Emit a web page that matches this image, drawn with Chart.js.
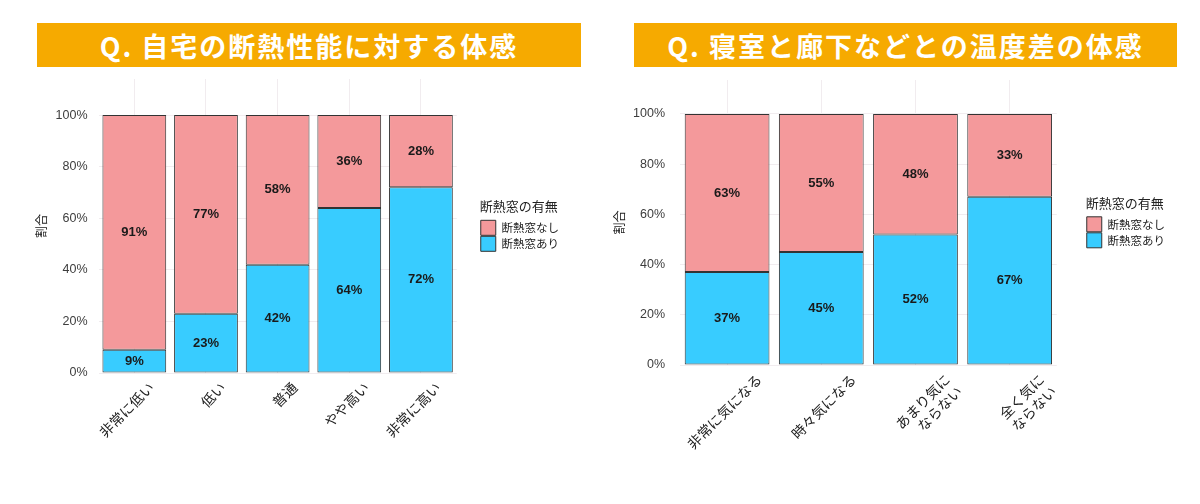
<!DOCTYPE html>
<html>
<head>
<meta charset="utf-8">
<script src="https://cdn.jsdelivr.net/npm/chart.js@4.4.1/dist/chart.umd.min.js"></script>
<style>
  html, body { margin: 0; padding: 0; background: #ffffff; }
  body { width: 1200px; height: 504px; position: relative; overflow: hidden; }
  .banner {
    position: absolute; top: 23px; height: 44px;
    background: #F6AA00;
    color: #ffffff;
    font-family: "Noto Sans CJK JP", "Noto Sans", sans-serif;
    font-weight: 700; font-size: 27px; letter-spacing: 2px;
    display: flex; align-items: center; justify-content: center;
    white-space: nowrap;
  }
  #b1 { left: 37px; width: 544px; }
  #b2 { left: 634px; width: 543px; }
  canvas { position: absolute; top: 0; }
  #wrap1 { position: absolute; left: 0; top: 0; width: 600px; height: 504px; }
  #wrap2 { position: absolute; left: 600px; top: 0; width: 600px; height: 504px; }
</style>
</head>
<body>
<div id="wrap1"><canvas id="c1" width="600" height="504"></canvas></div>
<div id="wrap2"><canvas id="c2" width="600" height="504"></canvas></div>
<div class="banner" id="b1">Q. 自宅の断熱性能に対する体感</div>
<div class="banner" id="b2">Q. 寝室と廊下などとの温度差の体感</div>
<script>
// ---- data ----
const titleLeft = 'Q. 自宅の断熱性能に対する体感';
const titleRight = 'Q. 寝室と廊下などとの温度差の体感';
const legendTitle = '断熱窓の有無';
const seriesWith = '断熱窓あり';
const seriesWithout = '断熱窓なし';
const yAxisTitle = '割合';

const leftCategories = ['非常に低い', '低い', '普通', 'やや高い', '非常に高い'];
const leftWith = [9, 23, 42, 64, 72];
const leftWithout = [91, 77, 58, 36, 28];

const rightCategories = ['非常に気になる', '時々気になる', ['あまり気に', 'ならない'], ['全く気に', 'ならない']];
const rightWith = [37, 45, 52, 67];
const rightWithout = [63, 55, 48, 33];

const yTickValues = [0, 20, 40, 60, 80, 100];

// ---- styles ----
const colorWith = '#38CCFF';
const colorWithout = '#F4999B';
const borderCol = '#333333';
const gridCol = '#f1ecef';
const jp = '"Noto Sans CJK JP", "Noto Sans", sans-serif';
const latin = '"Liberation Sans", Arial, sans-serif';

const valueLabels = {
  id: 'valueLabels',
  afterDatasetsDraw(chart) {
    const ctx = chart.ctx;
    ctx.save();
    ctx.font = 'bold 13px ' + latin;
    ctx.fillStyle = '#1a1a1a';
    ctx.textAlign = 'center';
    ctx.textBaseline = 'middle';
    chart.data.datasets.forEach((ds, di) => {
      const meta = chart.getDatasetMeta(di);
      meta.data.forEach((bar, i) => {
        const v = ds.data[i];
        ctx.fillText(v + '%', bar.x, (bar.y + bar.base) / 2);
      });
    });
    ctx.restore();
  }
};

function makeChart(id, cats, withVals, withoutVals, cfg) {
  return new Chart(document.getElementById(id), {
    type: 'bar',
    data: {
      labels: cats,
      datasets: [
        { label: seriesWith, data: withVals, backgroundColor: colorWith, borderColor: borderCol, borderWidth: 1, borderSkipped: false, barPercentage: cfg.barPct, categoryPercentage: 1 },
        { label: seriesWithout, data: withoutVals, backgroundColor: colorWithout, borderColor: borderCol, borderWidth: 1, borderSkipped: false, barPercentage: cfg.barPct, categoryPercentage: 1 }
      ]
    },
    options: {
      responsive: false,
      animation: false,
      devicePixelRatio: 1,
      layout: { padding: cfg.padding },
      plugins: {
        tooltip: { enabled: false },
        legend: {
          display: true,
          position: 'right',
          fullSize: false,
          reverse: true,
          align: 'center',
          title: { display: true, text: legendTitle, position: 'start', color: '#222', font: { family: jp, size: 13 }, padding: { top: 0, bottom: 4 } },
          labels: { boxWidth: 15, boxHeight: 15, padding: 1, color: '#222', font: { family: jp, size: 11.5 } }
        }
      },
      scales: {
        x: {
          stacked: true,
          offset: true,
          grid: { display: true, offset: false, color: gridCol, drawTicks: false },
          border: { display: false },
          ticks: { color: '#222', font: { family: jp, size: 14 }, minRotation: 45, maxRotation: 45, autoSkip: false, padding: 6, labelOffset: cfg.labelOffset },
          afterFit: (s) => { s.height = cfg.xHeight; }
        },
        y: {
          stacked: true,
          min: 0,
          max: cfg.ymax,
          afterBuildTicks: (s) => { s.ticks = yTickValues.map(v => ({ value: v })); },
          grid: { color: gridCol, drawTicks: false },
          border: { display: false },
          ticks: { color: '#3d3d3d', font: { family: latin, size: 12.5 }, padding: cfg.tickPad, callback: (v) => v + '%' },
          title: { display: true, text: yAxisTitle, color: '#222', font: { family: jp, size: 12 }, padding: { top: 4, bottom: 0 } },
          afterFit: (s) => { s.width = cfg.yWidth; }
        },
        gap: {
          position: 'right',
          display: true,
          grid: { display: false },
          border: { display: false },
          ticks: { display: false },
          afterFit: (s) => { s.width = cfg.gap; }
        }
      }
    },
    plugins: [valueLabels]
  });
}

makeChart('c1', leftCategories, leftWith, leftWithout, {
  barPct: 0.89, ymax: 114, padding: { top: 79, bottom: 41, left: 30, right: 31 },
  yWidth: 68.5, tickPad: 11, gap: 23, labelOffset: 17, xHeight: 90
});
makeChart('c2', rightCategories, rightWith, rightWithout, {
  barPct: 0.9, ymax: 113.5, padding: { top: 80, bottom: 29, left: 8, right: 25 },
  yWidth: 72, tickPad: 15, gap: 29, labelOffset: 32, xHeight: 110
});
</script>
</body>
</html>
